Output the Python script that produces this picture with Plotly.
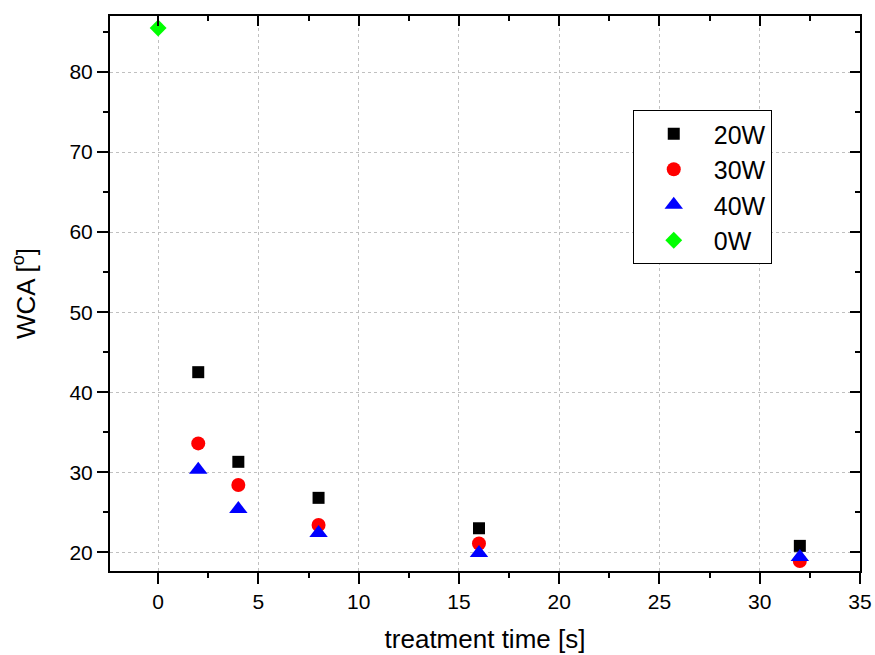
import plotly.graph_objects as go

# Data
time_s = [2, 4, 8, 16, 32]
wca_20w = [42.5, 31.3, 26.8, 23.0, 20.8]
wca_30w = [33.6, 28.4, 23.4, 21.1, 18.9]
wca_40w = [30.3, 25.4, 22.4, 19.9, 19.4]
time_0w = [0]
wca_0w = [85.5]

x_range = [-2.4, 35]
y_range = [17.66, 87]
x_ticks = [0, 5, 10, 15, 20, 25, 30, 35]
y_ticks = [20, 30, 40, 50, 60, 70, 80]

FONT = "Arial, Liberation Sans, sans-serif"

fig = go.Figure()
fig.add_trace(go.Scatter(x=time_s, y=wca_20w, mode="markers", name="20W",
                         marker=dict(symbol="square", size=12, color="#000000")))
fig.add_trace(go.Scatter(x=time_s, y=wca_30w, mode="markers", name="30W",
                         marker=dict(symbol="circle", size=14, color="#ff0000")))
fig.add_trace(go.Scatter(x=time_s, y=wca_40w, mode="markers", name="40W",
                         marker=dict(symbol="triangle-up", size=16, color="#0000ff")))
fig.add_trace(go.Scatter(x=time_0w, y=wca_0w, mode="markers", name="0W",
                         marker=dict(symbol="diamond", size=13, color="#00ff00")))
# dummy traces to activate helper axes (mirrored frame and minor ticks)
for xa, ya in [("x2", "y2"), ("x3", "y3"), ("x4", "y4")]:
    fig.add_trace(go.Scatter(x=[None], y=[None], xaxis=xa, yaxis=ya,
                             showlegend=False, hoverinfo="skip"))

common = dict(tickcolor="black", tickwidth=2, zeroline=False, automargin=False)

fig.update_layout(
    width=875, height=655,
    margin=dict(l=110, r=15, t=16, b=84),
    paper_bgcolor="white", plot_bgcolor="white",
    font=dict(family=FONT, color="black"),
    # main axes: major ticks outside, labels, grid
    xaxis=dict(
        range=x_range, tickvals=x_ticks, ticks="outside", ticklen=11,
        showline=True, linecolor="black", linewidth=2,
        showgrid=True, gridcolor="#c0c0c0", griddash="dot", gridwidth=1,
        tickfont=dict(size=21),
        title=dict(text="treatment time [s]", font=dict(size=26), standoff=18),
        **common,
    ),
    yaxis=dict(
        range=y_range, tickvals=y_ticks, ticks="outside", ticklen=11,
        showline=True, linecolor="black", linewidth=2,
        showgrid=True, gridcolor="#c0c0c0", griddash="dot", gridwidth=1,
        tickfont=dict(size=21),
        title=dict(text="WCA [<sup>o</sup>]", font=dict(size=26), standoff=26),
        **common,
    ),
    # top/right frame with inward major ticks
    xaxis2=dict(
        overlaying="x", side="top", anchor="y2", range=x_range, tickvals=x_ticks,
        ticks="inside", ticklen=10, showline=True, linecolor="black", linewidth=2,
        showgrid=False, showticklabels=False, **common,
    ),
    yaxis2=dict(
        overlaying="y", side="right", anchor="x2", range=y_range, tickvals=y_ticks,
        ticks="inside", ticklen=10, showline=True, linecolor="black", linewidth=2,
        showgrid=False, showticklabels=False, **common,
    ),
    # bottom/left minor ticks (outside)
    xaxis3=dict(
        overlaying="x", side="bottom", anchor="y3", range=x_range, tick0=0, dtick=2.5,
        ticks="outside", ticklen=6, showline=False, showgrid=False,
        showticklabels=False, **common,
    ),
    yaxis3=dict(
        overlaying="y", side="left", anchor="x3", range=y_range, tick0=0, dtick=5,
        ticks="outside", ticklen=6, showline=False, showgrid=False,
        showticklabels=False, **common,
    ),
    # top/right minor ticks (inside)
    xaxis4=dict(
        overlaying="x", side="top", anchor="y4", range=x_range, tick0=0, dtick=2.5,
        ticks="inside", ticklen=5, showline=False, showgrid=False,
        showticklabels=False, **common,
    ),
    yaxis4=dict(
        overlaying="y", side="right", anchor="x4", range=y_range, tick0=0, dtick=5,
        ticks="inside", ticklen=5, showline=False, showgrid=False,
        showticklabels=False, **common,
    ),
    legend=dict(
        x=0.697, y=0.8306, xanchor="left", yanchor="top",
        bordercolor="black", borderwidth=1, bgcolor="white",
        font=dict(size=25, family=FONT), itemwidth=70,
    ),
    showlegend=True,
)

fig.write_html("out.html")
